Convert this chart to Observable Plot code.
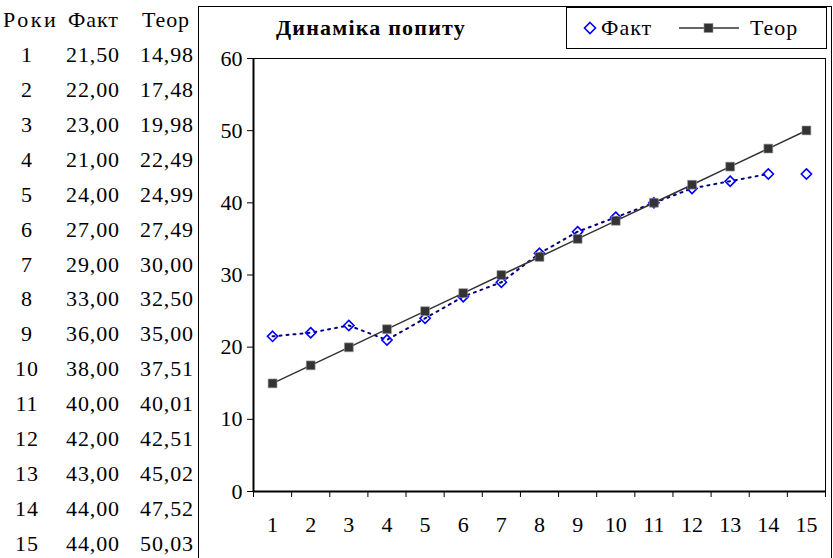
<!DOCTYPE html>
<html><head><meta charset="utf-8">
<script src="https://cdn.jsdelivr.net/npm/d3@7"></script>
<script src="https://cdn.jsdelivr.net/npm/@observablehq/plot@0.6"></script>
<style>
body{margin:0;background:#fff;font-family:"Liberation Serif","Times New Roman",serif;}
#wrap{position:relative;width:833px;height:558px;overflow:hidden;background:#fff;}
#table{position:absolute;left:0;top:0;}
#chartbox{position:absolute;left:198px;top:6px;width:634px;height:600px;border:1px solid #000;box-sizing:border-box;}
#plot{position:absolute;left:198px;top:6px;}
#title{position:absolute;left:276px;top:15px;font-weight:bold;font-size:22px;line-height:26px;letter-spacing:1.2px;white-space:nowrap;}
#legend{position:absolute;left:566px;top:7px;width:261px;height:42px;border:1px solid #000;box-sizing:border-box;background:#fff;font-size:22px;letter-spacing:1px;}
#legend .item{position:absolute;top:0;height:40px;display:flex;align-items:center;white-space:nowrap;}
</style>
</head><body>
<div id="wrap">
  <svg id="table" width="198" height="558"></svg>
  <div id="chartbox"></div>
  <div id="plot"></div>
  <div id="title"></div>
  <div id="legend"></div>
</div>
<script>
// ---- data ----
const years = [1,2,3,4,5,6,7,8,9,10,11,12,13,14,15];
const fakt  = [21.50,22.00,23.00,21.00,24.00,27.00,29.00,33.00,36.00,38.00,40.00,42.00,43.00,44.00,44.00];
const teor  = [14.98,17.48,19.98,22.49,24.99,27.49,30.00,32.50,35.00,37.51,40.01,42.51,45.02,47.52,50.03];
const yTicks = [0,10,20,30,40,50,60];
const headers = ["Роки","Факт","Теор"];
const seriesNames = ["Факт","Теор"];
const titleText = "Динаміка попиту";
const faktLineLastYear = 14; // dotted connector is not drawn to the last point

const fmt = v => v.toFixed(2).replace(".", ",");

// ---- table ----
const tsvg = d3.select("#table");
const base0 = 27, rowStep = 34.93;
const tstyle = s => s.attr("font-family","Liberation Serif, Times New Roman, serif").attr("font-size","22px").attr("letter-spacing","0.9px").attr("fill","#000");
tsvg.append("text").call(tstyle).attr("x",3).attr("y",base0).attr("letter-spacing","2.5px").text(headers[0]);
tsvg.append("text").call(tstyle).attr("x",68).attr("y",base0).text(headers[1]);
tsvg.append("text").call(tstyle).attr("x",142).attr("y",base0).text(headers[2]);
years.forEach((yr,i)=>{
  const y = base0 + rowStep*(i+1);
  tsvg.append("text").call(tstyle).attr("x",27).attr("y",y).attr("text-anchor","middle").text(yr);
  tsvg.append("text").call(tstyle).attr("x",120).attr("y",y).attr("text-anchor","end").text(fmt(fakt[i]));
  tsvg.append("text").call(tstyle).attr("x",194).attr("y",y).attr("text-anchor","end").text(fmt(teor[i]));
});

// ---- chart ----
const faktData = years.map((y,i)=>({year:y, value:fakt[i]}));
const teorData = years.map((y,i)=>({year:y, value:teor[i]}));
const boundaries = [years[0]-0.5, ...years.map(y=>y+0.5)];

const chart = Plot.plot({
  width: 635, height: 552,
  marginLeft: 55, marginRight: 8, marginTop: 52, marginBottom: 67,
  style: {fontFamily: "Liberation Serif, Times New Roman, serif", fontSize: "22px", background: "transparent", overflow: "visible", color: "#000"},
  x: {type: "linear", domain: [years[0]-0.5, years[years.length-1]+0.5], label: null},
  y: {domain: [yTicks[0], yTicks[yTicks.length-1]], label: null},
  marks: [
    Plot.frame({stroke: "#000", strokeWidth: 1}),
    Plot.ruleX([boundaries[0]], {stroke: "#000", strokeWidth: 2}),
    Plot.ruleY([yTicks[0]], {stroke: "#000", strokeWidth: 2}),
    Plot.axisY({ticks: yTicks, tickSize: 6, tickPadding: 5, label: null, tickFormat: d => String(d)}),
    Plot.axisX({ticks: boundaries, tickSize: 6, tickFormat: () => "", label: null}),
    Plot.axisX({ticks: years, tickSize: 0, tickPadding: 25, label: null, tickFormat: d => String(d)}),
    Plot.line(faktData.filter(d => d.year <= faktLineLastYear), {x: "year", y: "value", stroke: "#000080", strokeWidth: 2, strokeDasharray: "2,5"}),
    Plot.dot(faktData, {x: "year", y: "value", symbol: "diamond2", r: 4.6, stroke: "#0000ff", strokeWidth: 1.6, fill: "none"}),
    Plot.line(teorData, {x: "year", y: "value", stroke: "#333", strokeWidth: 1.5}),
    Plot.dot(teorData, {x: "year", y: "value", symbol: "square", r: 5, fill: "#333", stroke: "#999", strokeWidth: 0.6})
  ]
});
document.getElementById("plot").appendChild(chart);

// ---- title & legend ----
document.getElementById("title").textContent = titleText;
const leg = document.getElementById("legend");
leg.innerHTML =
  `<div class="item" style="left:16px"><svg width="14" height="14" style="margin-right:4px"><path d="M7,1.5 L12.5,7 L7,12.5 L1.5,7Z" fill="none" stroke="#0000ff" stroke-width="1.6"/></svg><span>${seriesNames[0]}</span></div>` +
  `<div class="item" style="left:111px"><svg width="62" height="14" style="margin-right:10px"><line x1="1" y1="7" x2="61" y2="7" stroke="#333" stroke-width="1.5"/><rect x="26" y="2.5" width="9" height="9" fill="#333" stroke="#999" stroke-width="0.6"/></svg><span>${seriesNames[1]}</span></div>`;
</script>
</body></html>
